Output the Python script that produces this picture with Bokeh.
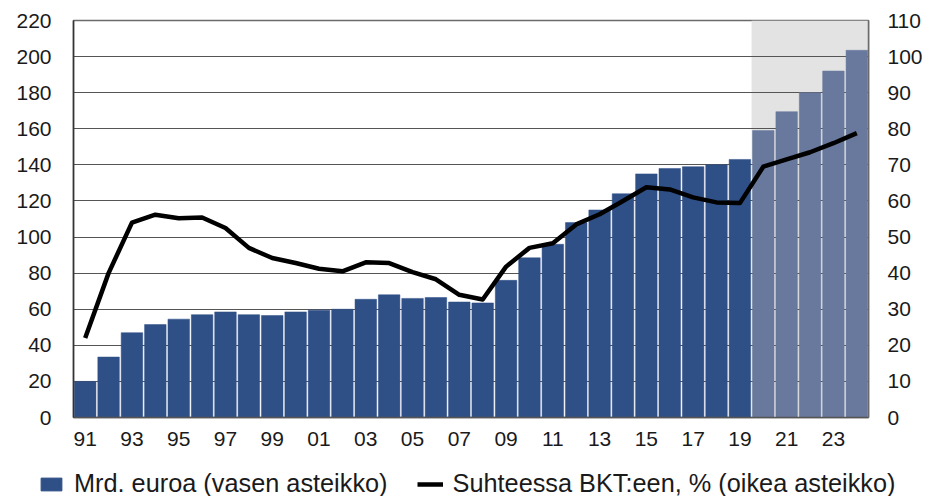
from bokeh.plotting import figure
from bokeh.embed import file_html
from bokeh.layouts import column
from bokeh.resources import INLINE
from bokeh.models import Range1d, LinearAxis, FixedTicker, Legend, LegendItem, ColumnDataSource

years = ["91","92","93","94","95","96","97","98","99","00","01","02","03","04","05","06","07",
         "08","09","10","11","12","13","14","15","16","17","18","19","20","21","22","23","24"]
bars = [20,33.5,47,51.5,54.5,57,58.5,57,56.5,58.5,59.5,60,65.5,68,66,66.5,64,
        63.5,76,88.5,96,108,115,124,135,138,139,140,143,159,169.5,180,192,203.5]
ratio = [22,40,54,56.2,55.2,55.4,52.5,47,44.2,42.8,41.2,40.5,43,42.8,40.3,38.3,34,
         32.7,41.8,47,48.3,53.5,56.3,60,63.8,63.2,61,59.6,59.4,69.5,71.5,73.5,76,78.8]
first_forecast = "20"
left_ticks = list(range(0, 221, 20))
right_ticks = list(range(0, 111, 10))
legend_bars = "Mrd. euroa (vasen asteikko)"
legend_line = "Suhteessa BKT:een, % (oikea asteikko)"

FONT = "Liberation Sans"
TXT = "#1a1a1a"
BAR = "#2f4f87"
n = len(years)
idx = list(range(n))
split = years.index(first_forecast)

p = figure(width=936, height=460, frame_width=795, frame_height=397,
           x_range=Range1d(-0.5, n - 0.5), y_range=Range1d(0, 220),
           output_backend="svg", toolbar_location=None,
           min_border_left=73, min_border_right=68, min_border_top=20, min_border_bottom=43,
           outline_line_color="#6a6a6a", outline_line_width=1.5, background_fill_color="white")
p.extra_y_ranges = {"r": Range1d(0, 110)}

def style(ax, standoff):
    ax.major_tick_line_color = None
    ax.minor_tick_line_color = None
    ax.major_label_text_font = FONT
    ax.major_label_text_font_size = "21px"
    ax.major_label_text_color = TXT
    ax.major_label_standoff = standoff

p.yaxis.ticker = FixedTicker(ticks=left_ticks)
style(p.yaxis[0], 16)
p.yaxis.axis_line_color = "#333333"
p.yaxis.axis_line_width = 1.5

p.xaxis.ticker = FixedTicker(ticks=idx[::2])
p.xaxis.major_label_overrides = {i: years[i] for i in idx[::2]}
style(p.xaxis[0], 8)
p.xaxis.axis_line_color = "#555555"
p.xaxis.axis_line_width = 1.5

right = LinearAxis(y_range_name="r", ticker=FixedTicker(ticks=right_ticks))
style(right, 13)
right.axis_line_color = "#6a6a6a"
right.axis_line_width = 1.5
p.add_layout(right, "right")

p.xgrid.visible = False
p.ygrid.ticker = FixedTicker(ticks=left_ticks)
p.ygrid.grid_line_color = "#555555"
p.ygrid.grid_line_width = 1.2

p.quad(left=split - 0.5, right=n - 0.5, bottom=0, top=220,
       fill_color="#e3e3e3", line_color=None, level="underlay")

actual = ColumnDataSource(dict(x=idx[:split], top=bars[:split]))
forecast = ColumnDataSource(dict(x=idx[split:], top=bars[split:]))
p.vbar(x="x", top="top", bottom=0, width=0.92, source=actual,
       fill_color=BAR, line_color=BAR, line_width=0.5)
p.vbar(x="x", top="top", bottom=0, width=0.92, source=forecast,
       fill_color="#68799d", line_color="#68799d", line_width=0.5)
p.line(idx, ratio, y_range_name="r", line_color="black", line_width=4.5, line_join="round")

# legend strip under the chart: its ranges show none of the series, only the legend keys
k = figure(width=936, height=36, x_range=Range1d(-2000, -1000), y_range=Range1d(-2000, -1000),
           output_backend="svg", toolbar_location=None, outline_line_color=None,
           min_border_left=0, min_border_right=0, min_border_top=0, min_border_bottom=0,
           frame_align=False)
k.axis.visible = False
k.grid.visible = False
r_a = k.vbar(x=idx, top=bars, bottom=0, width=0.92, fill_color=BAR, line_color=BAR)
r_l = k.line(idx, ratio, line_color="black", line_width=4.5)
legend = Legend(items=[LegendItem(label=legend_bars, renderers=[r_a]),
                       LegendItem(label=legend_line, renderers=[r_l])],
                orientation="horizontal", location=(38, -2),
                background_fill_alpha=0, border_line_color=None,
                label_text_font=FONT, label_text_font_size="25.3px", label_text_color=TXT,
                glyph_width=26, glyph_height=16, label_standoff=10, spacing=29,
                margin=0, padding=0)
k.add_layout(legend, "center")

open("out.html", "w").write(file_html(column(p, k, spacing=0), INLINE))
